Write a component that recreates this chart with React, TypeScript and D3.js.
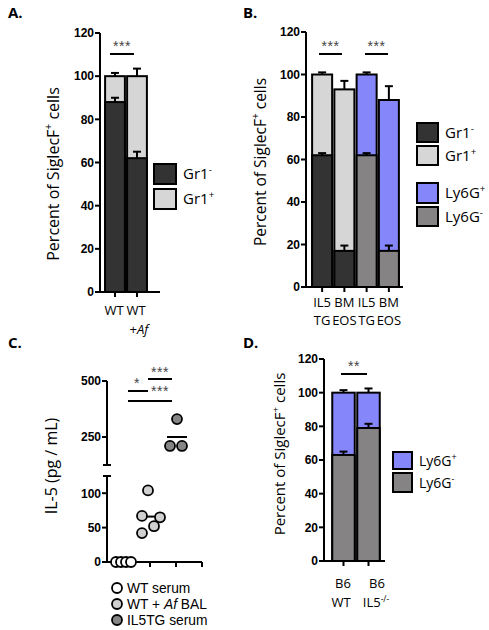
import React from 'react';
import * as d3 from 'd3';

// ---------- DATA ----------
const barTicks = [0, 20, 40, 60, 80, 100, 120];

// Panel A
const aCats = ['WT', 'WT +Af'];
const aGr1Neg = [88, 62];
const aGr1NegErr = [2, 3];
const aTotal = [100, 100];
const aTotalErr = [1.5, 3.5];

// Panel B
const bCats = ['IL5 TG', 'BM EOS', 'IL5 TG ', 'BM EOS '];
const bLower = [62, 17, 62, 17];
const bLowerErr = [1, 2.5, 1, 2.5];
const bTotal = [100, 93, 100, 88];
const bTotalErr = [1, 4, 1, 6.5];

// Panel C
const cGroups = ['WT serum', 'WT + Af BAL', 'IL5TG serum', ''];
const cWT = [0, 0, 0, 0];
const cBAL = [104, 67, 65, 52, 42];
const cTG = [330, 210, 210];
const cLowerTicks = [0, 50, 100];
const cUpperTicks = [250, 500];
const cWTJitter = [-8, -3, 2, 7];
const cBALJitter = [-2, -8, 10, 4, -8];
const cTGJitter = [1, -6, 6];

// Panel D
const dCats = ['B6 WT', 'B6 IL5-/-'];
const dLower = [63, 79];
const dLowerErr = [2, 2.5];
const dTotal = [100, 100];
const dTotalErr = [1.5, 2.5];

// ---------- STYLE ----------
const DARK = '#333333';
const LIGHT = '#d6d6d6';
const BLUE = '#8686fb';
const GRAY = '#858383';
const TICKFONT = '"Liberation Sans", Arial, sans-serif';
const TEXTFONT = '"Open Sans", "Noto Sans", sans-serif';

type BarPanelProps = {
  cats: string[];
  lower: number[];
  lowerErr: number[];
  total: number[];
  totalErr: number[];
  lowerColors: string[];
  upperColors: string[];
  yBottom: number;
  yTop: number;
  xStart: number;
  xEnd: number;
  axisX: number;
  axisEnd: number;
};

function ErrBar({ x, y0, y1 }: { x: number; y0: number; y1: number }) {
  return (
    <g stroke="#000" strokeWidth={2}>
      <line x1={x} x2={x} y1={y0} y2={y1} />
      <line x1={x - 4} x2={x + 4} y1={y1} y2={y1} />
    </g>
  );
}

function BarPanel(p: BarPanelProps) {
  const y = d3.scaleLinear().domain([0, 120]).range([p.yBottom, p.yTop]);
  const x = d3.scaleBand<string>().domain(p.cats).range([p.xStart, p.xEnd]).paddingInner(0.1).paddingOuter(0.05);
  const bw = x.bandwidth();
  return (
    <g>
      {p.cats.map((c, i) => {
        const x0 = x(c)!;
        const cx = x0 + bw / 2;
        return (
          <g key={c}>
            <rect x={x0} y={y(p.total[i])} width={bw} height={y(0) - y(p.total[i])} fill={p.upperColors[i]} stroke="#000" strokeWidth={2} />
            <rect x={x0} y={y(p.lower[i])} width={bw} height={y(0) - y(p.lower[i])} fill={p.lowerColors[i]} stroke="#000" strokeWidth={2} />
            <ErrBar x={cx} y0={y(p.total[i])} y1={y(p.total[i] + p.totalErr[i])} />
            <ErrBar x={cx} y0={y(p.lower[i])} y1={y(p.lower[i] + p.lowerErr[i])} />
          </g>
        );
      })}
      <line x1={p.axisX} x2={p.axisX} y1={y(0) + 1} y2={y(120)} stroke="#000" strokeWidth={2} />
      <line x1={p.axisX} x2={p.axisEnd} y1={y(0)} y2={y(0)} stroke="#000" strokeWidth={2} />
      {barTicks.map((t) => (
        <g key={t}>
          <line x1={p.axisX - 5} x2={p.axisX} y1={y(t)} y2={y(t)} stroke="#000" strokeWidth={2} />
          <text x={p.axisX - 6} y={y(t)} dy="0.36em" textAnchor="end" fontFamily={TICKFONT} fontWeight="bold" fontSize={12}>
            {t}
          </text>
        </g>
      ))}
      {p.cats.map((c) => (
        <line key={c} x1={x(c)! + bw / 2} x2={x(c)! + bw / 2} y1={y(0)} y2={y(0) + 5} stroke="#000" strokeWidth={2} />
      ))}
    </g>
  );
}

function Sig({ x1, x2, y, text, ty, tx }: { x1: number; x2: number; y: number; text: string; ty: number; tx?: number }) {
  return (
    <g>
      <line x1={x1} x2={x2} y1={y} y2={y} stroke="#000" strokeWidth={2} />
      <text x={tx ?? (x1 + x2) / 2} y={ty} textAnchor="middle" fontFamily={TICKFONT} fontSize={14} letterSpacing={0.5} fill="#444">
        {text}
      </text>
    </g>
  );
}

function Swatch({ x, y, w, h, fill, label, sup, fs }: { x: number; y: number; w: number; h: number; fill: string; label: string; sup: string; fs: number }) {
  return (
    <g>
      <rect x={x} y={y} width={w} height={h} fill={fill} stroke="#000" strokeWidth={2} />
      <text x={x + w + 7} y={y + h / 2} dy="0.36em" fontFamily={TEXTFONT} fontSize={fs}>
        {label}
        <tspan fontSize={fs * 0.65} dy={-fs * 0.4}>{sup}</tspan>
      </text>
    </g>
  );
}

function YTitle({ x, y, fs }: { x: number; y: number; fs: number }) {
  return (
    <text transform={`translate(${x},${y}) rotate(-90)`} textAnchor="middle" fontFamily={TEXTFONT} fontSize={fs} dy="0.36em">
      Percent of SiglecF
      <tspan fontSize={fs * 0.65} dy={-fs * 0.4}>+</tspan>
      <tspan dy={fs * 0.4}> cells</tspan>
    </text>
  );
}

function PanelC() {
  const yLow = d3.scaleLinear().domain([0, 125]).range([562, 476]);
  const yUp = d3.scaleLinear().domain([125, 500]).range([465, 381]);
  const yv = (v: number) => (v <= 125 ? yLow(v) : yUp(v));
  const x = d3.scalePoint<string>().domain(cGroups).range([124, 202]);
  const axisX = 107;
  const groups = [
    { vals: cWT, jit: cWTJitter, fill: '#ffffff', g: cGroups[0] },
    { vals: cBAL, jit: cBALJitter, fill: '#d0d0d0', g: cGroups[1] },
    { vals: cTG, jit: cTGJitter, fill: '#858585', g: cGroups[2] },
  ];
  const LFONT = '"Liberation Sans", Arial, sans-serif';
  return (
    <g>
      {/* axes */}
      <line x1={axisX} x2={axisX} y1={yUp(500)} y2={yUp(125)} stroke="#000" strokeWidth={2} />
      <line x1={axisX - 4} x2={axisX + 4} y1={yUp(125)} y2={yUp(125)} stroke="#000" strokeWidth={2} />
      <line x1={axisX} x2={axisX} y1={yLow(125)} y2={yLow(0) + 1} stroke="#000" strokeWidth={2} />
      <line x1={axisX - 4} x2={axisX + 4} y1={yLow(125)} y2={yLow(125)} stroke="#000" strokeWidth={2} />
      <line x1={axisX} x2={202} y1={yLow(0)} y2={yLow(0)} stroke="#000" strokeWidth={2} />
      {cGroups.map((g) => (
        <line key={g + 'tk'} x1={x(g)!} x2={x(g)!} y1={yLow(0)} y2={yLow(0) + 5} stroke="#000" strokeWidth={2} />
      ))}
      {cLowerTicks.map((t) => (
        <g key={'l' + t}>
          <line x1={axisX - 5} x2={axisX} y1={yLow(t)} y2={yLow(t)} stroke="#000" strokeWidth={2} />
          <text x={axisX - 6} y={yLow(t)} dy="0.36em" textAnchor="end" fontFamily={TICKFONT} fontWeight="bold" fontSize={12}>{t}</text>
        </g>
      ))}
      {cUpperTicks.map((t) => (
        <g key={'u' + t}>
          <line x1={axisX - 5} x2={axisX} y1={yUp(t)} y2={yUp(t)} stroke="#000" strokeWidth={2} />
          <text x={axisX - 6} y={yUp(t)} dy="0.36em" textAnchor="end" fontFamily={TICKFONT} fontWeight="bold" fontSize={12}>{t}</text>
        </g>
      ))}
      {/* means + points */}
      {groups.map((gr) => {
        const cx = x(gr.g)!;
        const m = d3.mean(gr.vals)!;
        return (
          <g key={gr.g}>
            <line x1={cx - 9} x2={cx + 11} y1={yv(m)} y2={yv(m)} stroke="#000" strokeWidth={2} />
            {gr.vals.map((v, i) => (
              <circle key={i} cx={cx + gr.jit[i]} cy={yv(v)} r={5} fill={gr.fill} stroke="#000" strokeWidth={1.8} />
            ))}
          </g>
        );
      })}
      {/* significance */}
      <Sig x1={128} x2={148} y={391} text="*" ty={388} tx={137} />
      <Sig x1={148} x2={172} y={379} text="***" ty={377} tx={160} />
      <Sig x1={128} x2={172} y={401} text="***" ty={396} tx={160} />
      {/* legend */}
      {groups.map((gr, i) => (
        <g key={'lg' + i}>
          <circle cx={117} cy={588 + i * 16} r={5} fill={gr.fill} stroke="#000" strokeWidth={1.8} />
          <text x={127} y={588 + i * 16} dy="0.36em" fontFamily={LFONT} fontSize={13.8}>
            {i === 1 ? (
              <>
                WT + <tspan fontStyle="italic">Af</tspan> BAL
              </>
            ) : (
              gr.g
            )}
          </text>
        </g>
      ))}
      <text transform="translate(51,466) rotate(-90)" textAnchor="middle" fontFamily={TEXTFONT} fontSize={16} dy="0.36em">
        IL-5 (pg / mL)
      </text>
    </g>
  );
}

export default function App() {
  const bX = d3.scaleBand<string>().domain(bCats).range([311, 400]).paddingInner(0.1).paddingOuter(0.05);
  return (
    <svg width={489} height={630} style={{ position: 'absolute', left: 0, top: 0, background: '#fff' }}>
      <rect width={489} height={630} fill="#fff" />
      {/* Panel letters */}
      <text x={8} y={18} fontFamily={TEXTFONT} fontWeight="bold" fontSize={15}>A.</text>
      <text x={243} y={18} fontFamily={TEXTFONT} fontWeight="bold" fontSize={15}>B.</text>
      <text x={8} y={348} fontFamily={TEXTFONT} fontWeight="bold" fontSize={15}>C.</text>
      <text x={243} y={348} fontFamily={TEXTFONT} fontWeight="bold" fontSize={15}>D.</text>

      {/* Panel A */}
      <BarPanel cats={aCats} lower={aGr1Neg} lowerErr={aGr1NegErr} total={aTotal} totalErr={aTotalErr}
        lowerColors={[DARK, DARK]} upperColors={[LIGHT, LIGHT]} yBottom={292} yTop={33}
        xStart={104} xEnd={148} axisX={100} axisEnd={160} />
      <Sig x1={110} x2={134} y={54} text="***" ty={51} />
      <YTitle x={53} y={174} fs={16} />
      <text x={114} y={315} textAnchor="middle" fontFamily={TEXTFONT} fontSize={13}>WT</text>
      <text x={136} y={315} textAnchor="middle" fontFamily={TEXTFONT} fontSize={13}>WT</text>
      <text x={139} y={334} textAnchor="middle" fontFamily={TEXTFONT} fontSize={13}>+<tspan fontStyle="italic">Af</tspan></text>
      <Swatch x={154} y={164} w={22} h={20} fill={DARK} label="Gr1" sup="-" fs={15} />
      <Swatch x={154} y={189} w={22} h={20} fill={LIGHT} label="Gr1" sup="+" fs={15} />

      {/* Panel B */}
      <BarPanel cats={bCats} lower={bLower} lowerErr={bLowerErr} total={bTotal} totalErr={bTotalErr}
        lowerColors={[DARK, DARK, GRAY, GRAY]} upperColors={[LIGHT, LIGHT, BLUE, BLUE]} yBottom={287} yTop={32}
        xStart={311} xEnd={400} axisX={306} axisEnd={403} />
      <Sig x1={319} x2={342} y={54} text="***" ty={51} />
      <Sig x1={365} x2={388} y={54} text="***" ty={51} />
      <YTitle x={260} y={162} fs={15.5} />
      {bCats.map((c, i) => {
        const cx = bX(c)! + bX.bandwidth() / 2;
        const [l1, l2] = c.trim().split(' ');
        return (
          <g key={'bl' + i}>
            <text x={cx} y={307} textAnchor="middle" fontFamily={TEXTFONT} fontSize={13}>{l1}</text>
            <text x={cx} y={325} textAnchor="middle" fontFamily={TEXTFONT} fontSize={13}>{l2}</text>
          </g>
        );
      })}
      <Swatch x={417} y={123} w={21} h={19} fill={DARK} label="Gr1" sup="-" fs={15} />
      <Swatch x={417} y={146} w={21} h={19} fill={LIGHT} label="Gr1" sup="+" fs={15} />
      <Swatch x={417} y={183} w={21} h={20} fill={BLUE} label="Ly6G" sup="+" fs={15} />
      <Swatch x={417} y={207} w={21} h={19} fill={GRAY} label="Ly6G" sup="-" fs={15} />

      {/* Panel C */}
      <PanelC />

      {/* Panel D */}
      <BarPanel cats={dCats} lower={dLower} lowerErr={dLowerErr} total={dTotal} totalErr={dTotalErr}
        lowerColors={[GRAY, GRAY]} upperColors={[BLUE, BLUE]} yBottom={561} yTop={359}
        xStart={331} xEnd={381} axisX={324} axisEnd={385} />
      <Sig x1={341} x2={367} y={374} text="**" ty={371} />
      <YTitle x={280} y={454} fs={15} />
      <text x={343} y={588} textAnchor="middle" fontFamily={TEXTFONT} fontSize={13}>B6</text>
      <text x={341} y={607} textAnchor="middle" fontFamily={TEXTFONT} fontSize={13}>WT</text>
      <text x={377} y={588} textAnchor="middle" fontFamily={TEXTFONT} fontSize={13}>B6</text>
      <text x={376} y={607} textAnchor="middle" fontFamily={TEXTFONT} fontSize={13}>IL5<tspan fontSize={8.5} dy={-5}>-/-</tspan></text>
      <Swatch x={393} y={452} w={19} h={17} fill={BLUE} label="Ly6G" sup="+" fs={14} />
      <Swatch x={393} y={473} w={19} h={19} fill={GRAY} label="Ly6G" sup="-" fs={14} />
    </svg>
  );
}
